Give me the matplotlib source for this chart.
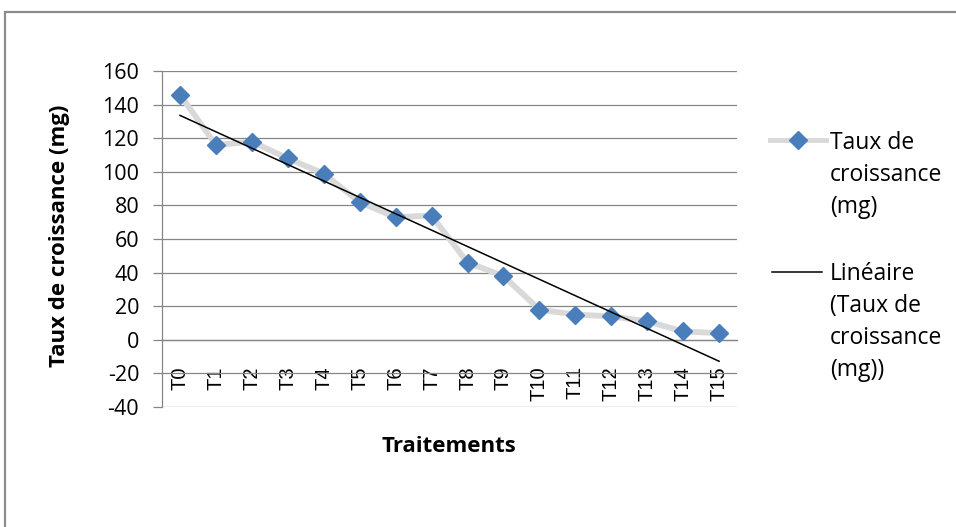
import matplotlib.pyplot as plt
import numpy as np
from matplotlib.lines import Line2D
from matplotlib.patches import Rectangle

# growth rate per treatment (mg)
traitements = ['T0', 'T1', 'T2', 'T3', 'T4', 'T5', 'T6', 'T7',
               'T8', 'T9', 'T10', 'T11', 'T12', 'T13', 'T14', 'T15']
taux = [146, 116, 118, 108, 99, 82, 73, 74, 46, 38, 18, 15, 14, 11, 5, 4]
yticks = [-40, -20, 0, 20, 40, 60, 80, 100, 120, 140, 160]

grid_col = '#868686'
serie_col = '#4a7ebb'
ligne_col = '#d9d9d9'
txt_font = ['Open Sans', 'DejaVu Sans']

x = np.arange(len(traitements))
pente, orig = np.polyfit(x, taux, 1)
tendance = pente * x + orig

fig = plt.figure(figsize=(9.56, 5.27), dpi=100)
ax = fig.add_axes([0.1695, 0.2277, 0.771 - 0.1695, 0.865 - 0.2277])

# chart area frame
fig.add_artist(Rectangle((5 / 956, -0.2), 1.2, 1.2 - 12 / 527, transform=fig.transFigure,
                         fill=False, edgecolor='#8c8c8c', linewidth=1.6))

# category axis crosses at zero (set before ticks: set_position resets them)
for s in ['top', 'right']:
    ax.spines[s].set_visible(False)
ax.spines['left'].set_color(grid_col)
ax.spines['left'].set_linewidth(0.9)
ax.spines['bottom'].set_position(('data', 0))
ax.spines['bottom'].set_color(grid_col)
ax.spines['bottom'].set_linewidth(0.9)

ax.plot(x, taux, color=ligne_col, lw=4.2, marker='D', ms=9.5,
        mfc=serie_col, mec=serie_col, zorder=3, solid_joinstyle='round')
ax.plot(x, tendance, color='black', lw=1.1, zorder=4)

ax.set_xlim(-0.5, len(traitements) - 0.5)
ax.set_ylim(-40, 160)
ax.set_yticks(yticks)
ax.set_yticklabels([str(v) for v in yticks], family=txt_font, fontsize=15.5)
ax.yaxis.grid(True, color=grid_col, lw=0.9)
ax.set_axisbelow(True)

ax.set_xticks(x)
ax.set_xticklabels(traitements, rotation=90, fontname='Liberation Sans', fontsize=14.5,
                   va='top', ha='center')
ax.tick_params(axis='x', length=0, pad=19)
ax.tick_params(axis='y', length=6.5, width=0.9, color=grid_col, pad=10)

fig.text(60 / 956, 1 - 236 / 527, 'Taux de croissance (mg)', rotation=90,
         ha='center', va='center', fontsize=16, fontweight='bold', family=txt_font)
fig.text(449 / 956, 1 - 446 / 527, 'Traitements', ha='center', va='center',
         fontsize=16, fontweight='bold', family=txt_font)

# legend
fig.add_artist(Line2D([770 / 956, 826 / 956], [1 - 140 / 527] * 2, transform=fig.transFigure,
                      color=ligne_col, lw=3.5))
fig.add_artist(Line2D([798 / 956], [1 - 140 / 527], transform=fig.transFigure,
                      marker='D', ms=9.5, mfc=serie_col, mec=serie_col, lw=0))
fig.add_artist(Line2D([772 / 956, 822 / 956], [1 - 272 / 527] * 2, transform=fig.transFigure,
                      color='black', lw=1.1))
fig.text(830 / 956, 1 - 131 / 527, 'Taux de\ncroissance\n(mg)', ha='left', va='top',
         fontsize=16.5, family=txt_font, linespacing=1.45)
fig.text(830 / 956, 1 - 262 / 527, 'Linéaire\n(Taux de\ncroissance\n(mg))', ha='left', va='top',
         fontsize=16.5, family=txt_font, linespacing=1.45)

fig.savefig('out.png', dpi=100)
